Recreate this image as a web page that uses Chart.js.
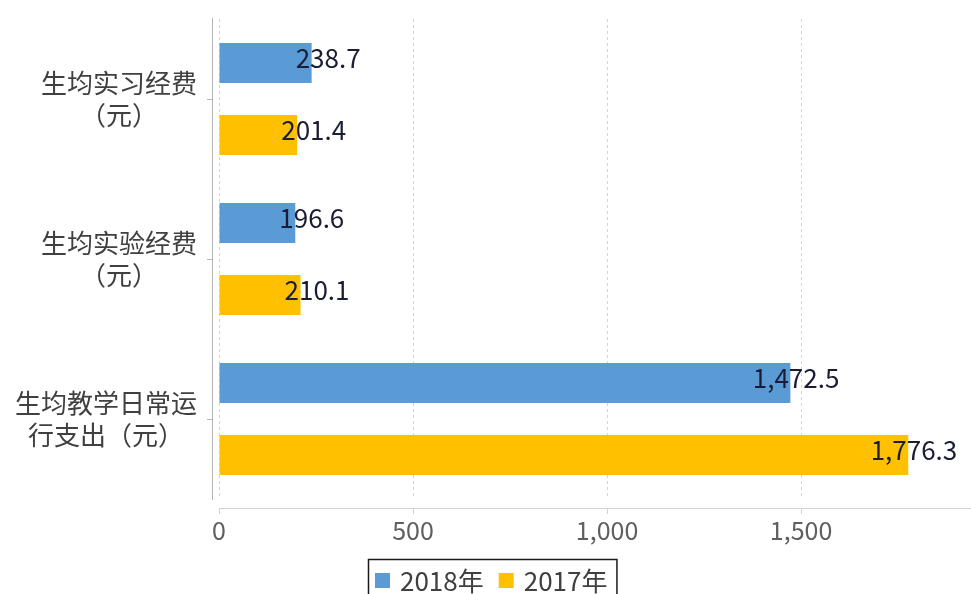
<!DOCTYPE html>
<html>
<head>
<meta charset="utf-8">
<script src="https://cdn.jsdelivr.net/npm/chart.js@4/dist/chart.umd.min.js"></script>
<style>
  html, body { margin: 0; padding: 0; background: #fff; }
  #wrap { width: 971px; height: 594px; position: relative; }
</style>
</head>
<body>
<div id="wrap"><canvas id="bar-chart" width="971" height="594"></canvas></div>
<script>
// categories, two lines each
var categories = [
  ['生均实习经费', '（元）'],
  ['生均实验经费', '（元）'],
  ['生均教学日常运', '行支出（元）']
];
var seriesNames = ['2018年', '2017年'];
var values2018 = [238.7, 196.6, 1472.5];
var values2017 = [201.4, 210.1, 1776.3];
var xTicks = [0, 500, 1000, 1500];
var colors = ['#5B9BD5', '#FFC000'];

var FONT = "'Noto Sans CJK SC', 'Noto Sans', sans-serif";

// axis lines + small tick marks
var axisLines = {
  id: 'axisLines',
  afterDatasetsDraw: function (chart) {
    var c = chart.ctx, a = chart.chartArea;
    var xs = chart.scales.x, ys = chart.scales.y;
    c.save();
    c.lineWidth = 1;
    c.strokeStyle = '#b4b4b4';
    c.beginPath();
    c.moveTo(a.left - 6.5, a.top - 1);
    c.lineTo(a.left - 6.5, a.bottom + 1);
    for (var i = 0; i < categories.length; i++) {
      var ty = Math.round(ys.getPixelForTick(i)) + 0.5;
      c.moveTo(a.left - 12, ty);
      c.lineTo(a.left - 6.5, ty);
    }
    c.stroke();
    c.strokeStyle = '#d2d2d2';
    c.beginPath();
    c.moveTo(a.left, a.bottom + 9.5);
    c.lineTo(a.right, a.bottom + 9.5);
    xs.ticks.forEach(function (t) {
      var tx = Math.round(xs.getPixelForValue(t.value)) + 0.5;
      c.moveTo(tx, a.bottom + 9.5);
      c.lineTo(tx, a.bottom + 15);
    });
    c.stroke();
    c.restore();
  }
};

// category names, each centred under its first line
var catLabels = {
  id: 'catLabels',
  afterDraw: function (chart) {
    var c = chart.ctx, ys = chart.scales.y;
    var right = chart.chartArea.left - 22;
    c.save();
    c.font = '26px ' + FONT;
    c.fillStyle = '#404040';
    c.textAlign = 'center';
    c.textBaseline = 'middle';
    categories.forEach(function (lines, i) {
      var y = ys.getPixelForTick(i);
      var w = c.measureText(lines[0]).width;
      var cx = right - w / 2;
      c.fillText(lines[0], cx, y - 16);
      c.fillText(lines[1], cx, y + 16);
    });
    c.restore();
  }
};

// value text at the end of each bar
var valueLabels = {
  id: 'valueLabels',
  afterDatasetsDraw: function (chart) {
    var c = chart.ctx;
    c.save();
    c.font = '26px ' + FONT;
    c.fillStyle = '#1a1d33';
    c.textAlign = 'right';
    c.textBaseline = 'middle';
    chart.data.datasets.forEach(function (ds, di) {
      chart.getDatasetMeta(di).data.forEach(function (bar, i) {
        var txt = ds.data[i].toLocaleString('en-US', { minimumFractionDigits: 1, maximumFractionDigits: 1 });
        c.fillText(txt, bar.x + 49, bar.y - 5);
      });
    });
    c.restore();
  }
};

// boxed legend under the axis
var boxLegend = {
  id: 'boxLegend',
  afterDraw: function (chart) {
    var c = chart.ctx;
    var x0 = 368, y0 = 559;
    c.save();
    c.font = '26px ' + FONT;
    c.textBaseline = 'middle';
    var x = x0 + 7;
    var items = [];
    chart.data.datasets.forEach(function (ds) {
      items.push({ x: x, label: ds.label, color: ds.backgroundColor });
      x += 25 + c.measureText(ds.label).width + 15;
    });
    var w = x - x0 - 6;
    c.lineWidth = 1.5;
    c.strokeStyle = '#1a1a1a';
    c.strokeRect(x0 + 0.5, y0 + 0.5, w, 60);
    items.forEach(function (it) {
      c.fillStyle = it.color;
      c.fillRect(it.x, y0 + 14, 15, 15);
      c.fillStyle = '#404040';
      c.fillText(it.label, it.x + 25, y0 + 22);
    });
    c.restore();
  }
};

var ctx = document.getElementById('bar-chart').getContext('2d');
var barChart = new Chart(ctx, {
  type: 'bar',
  data: {
    labels: categories,
    datasets: [{
      label: seriesNames[0],
      data: values2018,
      backgroundColor: colors[0]
    }, {
      label: seriesNames[1],
      data: values2017,
      backgroundColor: colors[1]
    }]
  },
  options: {
    indexAxis: 'y',
    responsive: false,
    animation: false,
    locale: 'en-US',
    devicePixelRatio: 1,
    categoryPercentage: 0.9,
    barPercentage: 0.556,
    layout: { padding: { top: 19, left: 0, right: 0, bottom: 0 } },
    plugins: {
      legend: { display: false },
      tooltip: { enabled: false }
    },
    scales: {
      x: {
        min: 0,
        max: 1938,
        afterBuildTicks: function (scale) {
          scale.ticks = xTicks.map(function (v) { return { value: v }; });
        },
        afterFit: function (scale) { scale.height = 95; },
        grid: {
          color: '#d4d4d4',
          lineWidth: 1,
          drawTicks: false
        },
        border: { display: false, dash: [3, 3] },
        ticks: {
          padding: 16,
          maxRotation: 0,
          autoSkip: false,
          color: '#5f5f5f',
          font: { family: FONT, size: 25 }
        }
      },
      y: {
        afterFit: function (scale) { scale.width = 219; },
        grid: { display: false },
        border: { display: false },
        ticks: { display: false }
      }
    }
  },
  plugins: [axisLines, valueLabels, catLabels, boxLegend]
});
</script>
</body>
</html>
